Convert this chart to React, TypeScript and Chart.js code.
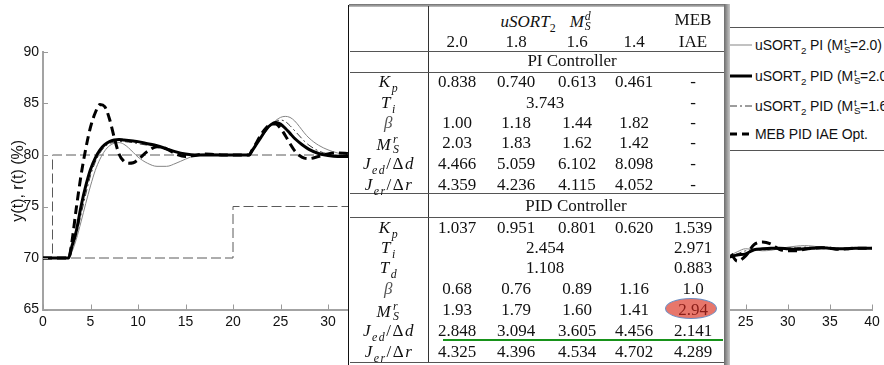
import React, { useEffect, useRef } from 'react';
import { Chart, registerables } from 'chart.js';
Chart.register(...registerables);

// ---------- data: left plot (set-point / disturbance response) ----------
const tLeft = [0, 1, 2, 2.7, 3, 3.5, 4, 4.5, 5, 5.5, 6, 6.5, 7, 7.5, 8, 8.5, 9, 9.5, 10, 11, 12, 13, 14, 15, 16, 17, 18, 19, 20, 21, 21.7, 22, 22.5, 23, 23.5, 24, 24.5, 25, 25.5, 26, 26.5, 27, 27.5, 28, 29, 30, 31, 32, 34, 36, 38, 40];
const piLeft = [70, 70, 70, 70, 70.5, 71.8, 73.5, 75.3, 77.0, 78.5, 79.6, 80.4, 80.9, 81.15, 81.2, 81.05, 80.7, 80.25, 79.8, 79.2, 78.9, 78.9, 79.2, 79.6, 79.95, 80.1, 80.1, 80.05, 80, 80, 80, 80.3, 81.0, 81.7, 82.3, 82.9, 83.35, 83.65, 83.75, 83.65, 83.3, 82.75, 82.15, 81.65, 80.95, 80.5, 80.2, 80.0, 79.9, 79.95, 80, 80];
const pid20Left = [70, 70, 70, 70, 71.0, 72.6, 75.0, 77.0, 78.6, 79.7, 80.5, 81.0, 81.3, 81.45, 81.5, 81.45, 81.4, 81.35, 81.3, 81.1, 80.9, 80.6, 80.3, 80.1, 80.0, 80, 80, 80, 80, 80, 80, 80.4, 81.1, 81.8, 82.5, 82.95, 83.15, 83.0, 82.6, 82.1, 81.6, 81.2, 80.85, 80.55, 80.15, 79.95, 79.85, 79.85, 79.9, 80, 80, 80];
const pid16Left = [70, 70, 70, 70, 70.7, 72.2, 74.2, 76.2, 78.0, 79.3, 80.2, 80.8, 81.1, 81.25, 81.3, 81.3, 81.25, 81.2, 81.1, 80.95, 80.8, 80.55, 80.3, 80.1, 80.0, 80, 80, 80, 80, 80, 80, 80.3, 81.0, 81.7, 82.35, 82.9, 83.25, 83.4, 83.25, 82.85, 82.35, 81.85, 81.35, 80.95, 80.4, 80.1, 79.95, 79.9, 79.95, 80, 80, 80];
const mebLeft = [70, 70, 70, 70, 71.3, 74.8, 78.0, 80.6, 82.7, 84.1, 84.9, 84.7, 83.5, 81.7, 80.1, 79.4, 79.2, 79.25, 79.55, 80.35, 80.8, 80.6, 80.1, 79.85, 79.95, 80.1, 80.05, 80, 80, 80, 80, 80.45, 81.25, 82.05, 82.65, 83.0, 83.0, 82.6, 81.9, 81.1, 80.4, 79.95, 79.7, 79.65, 79.85, 80.1, 80.2, 80.15, 80.0, 80, 80, 80];
const refT = [0, 1, 1, 40];
const refY = [70, 70, 80, 80];
const distT = [0, 20, 20, 40];
const distY = [70, 70, 75, 75];

// ---------- data: right plot ----------
const tRight = [22, 23, 24, 25, 26, 27, 28, 29, 30, 31, 32, 33, 34, 35, 36, 37, 38, 39, 40];
const piRight = [70.0, 70.2, 70.6, 70.9, 70.8, 70.7, 70.75, 70.9, 71.05, 71.15, 71.2, 71.15, 71.05, 70.95, 70.9, 70.9, 70.95, 70.95, 70.95];
const pid20Right = [70.0, 70.1, 70.3, 70.4, 70.8, 70.9, 70.95, 70.95, 70.9, 70.85, 70.9, 70.95, 71.0, 70.95, 70.9, 70.9, 70.95, 70.95, 70.95];
const pid16Right = [70.0, 70.1, 70.4, 70.7, 70.8, 70.8, 70.85, 70.9, 70.95, 71.0, 71.05, 71.05, 71.0, 70.95, 70.9, 70.9, 70.95, 70.95, 70.95];
const mebRight = [70.0, 70.6, 69.7, 70.2, 71.3, 71.55, 71.35, 70.85, 70.7, 70.7, 70.85, 70.95, 71.0, 70.95, 70.85, 70.9, 70.95, 70.95, 70.95];

// ---------- axis ----------
const xMin = 0, xMax = 40, xStep = 5;
const yMin = 65, yMax = 90, yStep = 5;
const yTitle = 'y(t), r(t) (%)';

// ---------- legend ----------
const legendCtrl = ['PI', 'PID', 'PID'];
const legendMs = ['2.0', '2.0', '1.6'];
const legendMeb = 'MEB PID IAE Opt.';

// ---------- table ----------
const colHeaders = ['2.0', '1.8', '1.6', '1.4'];
const piKp = ['0.838', '0.740', '0.613', '0.461', '-'];
const piTi = ['3.743', '-'];
const piBeta = ['1.00', '1.18', '1.44', '1.82', '-'];
const piMs = ['2.03', '1.83', '1.62', '1.42', '-'];
const piJed = ['4.466', '5.059', '6.102', '8.098', '-'];
const piJer = ['4.359', '4.236', '4.115', '4.052', '-'];
const pidKp = ['1.037', '0.951', '0.801', '0.620', '1.539'];
const pidTi = ['2.454', '2.971'];
const pidTd = ['1.108', '0.883'];
const pidBeta = ['0.68', '0.76', '0.89', '1.16', '1.0'];
const pidMs = ['1.93', '1.79', '1.60', '1.41', '2.94'];
const pidJed = ['2.848', '3.094', '3.605', '4.456', '2.141'];
const pidJer = ['4.325', '4.396', '4.534', '4.702', '4.289'];

const SANS = '"Liberation Sans", Arial, Helvetica, sans-serif';
const SERIF = '"Liberation Serif", "Times New Roman", Times, serif';

const pts = (xs: number[], ys: number[]) => xs.map((x, i) => ({ x, y: ys[i] }));

function innerTicks(showY: boolean) {
  return {
    id: 'innerTicks',
    afterDraw(chart: any) {
      const { ctx, chartArea, scales } = chart;
      ctx.save();
      ctx.strokeStyle = '#9a9a9a';
      ctx.lineWidth = 1;
      const xs = scales.x;
      xs.ticks.forEach((t: any) => {
        const p = Math.round(xs.getPixelForValue(t.value)) + 0.5;
        ctx.beginPath();
        ctx.moveTo(p, chartArea.bottom);
        ctx.lineTo(p, chartArea.bottom - 5);
        ctx.stroke();
      });
      if (showY) {
        const ys = scales.y;
        ys.ticks.forEach((t: any) => {
          const p = Math.round(ys.getPixelForValue(t.value)) + 0.5;
          ctx.beginPath();
          ctx.moveTo(chartArea.left, p);
          ctx.lineTo(chartArea.left + 5, p);
          ctx.stroke();
        });
      }
      ctx.restore();
    },
  };
}

function curveSets(t: number[], pi: number[], p20: number[], p16: number[], meb: number[]) {
  const base = { pointRadius: 0, fill: false, cubicInterpolationMode: 'monotone' as const };
  return [
    { ...base, data: pts(t, meb), borderColor: '#000', borderWidth: 3, borderDash: [9, 5] },
    { ...base, data: pts(t, p20), borderColor: '#000', borderWidth: 3 },
    { ...base, data: pts(t, p16), borderColor: '#3a3a3a', borderWidth: 1, borderDash: [7, 3, 2, 3] },
    { ...base, data: pts(t, pi), borderColor: '#858585', borderWidth: 1 },
  ];
}

function makeConfig(datasets: any[], padLeft: number, padRight: number, showY: boolean): any {
  const tickFont = { family: SANS, size: 14 };
  return {
    type: 'line',
    data: { datasets },
    options: {
      responsive: false,
      animation: false,
      devicePixelRatio: 1,
      events: [],
      layout: { padding: { left: padLeft, right: padRight, top: 52, bottom: 0 } },
      plugins: { legend: { display: false }, tooltip: { enabled: false } },
      scales: {
        x: {
          type: 'linear', min: xMin, max: xMax,
          ticks: { stepSize: xStep, font: tickFont, color: '#111', padding: 4, maxRotation: 0 },
          grid: { display: false, drawTicks: false },
          border: { display: true, color: '#a3a3a3', width: 2 },
          afterFit: (a: any) => { a.height = 365 - 309.5; },
        },
        y: {
          type: 'linear', min: yMin, max: yMax, display: showY,
          ticks: { stepSize: yStep, font: tickFont, color: '#111', padding: 4 },
          grid: { display: false, drawTicks: false },
          border: { display: true, color: '#a3a3a3', width: 2 },
          title: { display: true, text: yTitle, font: { family: SANS, size: 16 }, color: '#111', padding: { top: 9, bottom: 0 } },
          afterFit: (a: any) => { a.width = 43; },
        },
      },
    },
    plugins: [innerTicks(showY)],
  };
}

// ---------- small typographic helpers ----------
function Sub({ fs, children, italic = false, drop = 0.28 }: any) {
  return <span style={{ fontSize: fs * 0.7, position: 'relative', top: fs * drop, fontStyle: italic ? 'italic' : 'normal', lineHeight: 0 }}>{children}</span>;
}
function SupSub({ fs, sup, sub, italic = true, w }: any) {
  const s = fs * 0.7;
  return (
    <span style={{ display: 'inline-block', position: 'relative', width: w ?? s * 0.72 + 1, height: fs, verticalAlign: 'baseline' }}>
      <span style={{ position: 'absolute', left: 1, bottom: fs * 0.26, fontSize: s, lineHeight: 1, fontStyle: italic ? 'italic' : 'normal' }}>{sup}</span>
      <span style={{ position: 'absolute', left: 1, top: fs * 0.66, fontSize: s, lineHeight: 1, fontStyle: italic ? 'italic' : 'normal' }}>{sub}</span>
    </span>
  );
}

const FS = 17;
const COLX = [457, 516, 577, 634, 693];
const SPANX = 545;
const LABELX = 389;

function Cell({ x, y, children, color, math }: any) {
  return (
    <div style={{
      position: 'absolute', left: x - 70, top: y - 10, width: 140, height: 20, lineHeight: '20px',
      textAlign: 'center', whiteSpace: 'nowrap', fontFamily: SERIF, fontSize: FS, color: color || '#111',
      letterSpacing: math ? 1.5 : 0,
    }}>{children}</div>
  );
}

function Row({ y, label, values }: any) {
  return (
    <>
      <Cell x={LABELX} y={y} math>{label}</Cell>
      {values.length === 2 ? (
        <>
          <Cell x={SPANX} y={y}>{values[0]}</Cell>
          <Cell x={COLX[4]} y={y}>{values[1]}</Cell>
        </>
      ) : values.map((v: string, i: number) => (i === 4 && v === '2.94') ? null : <Cell key={i} x={COLX[i]} y={y}>{v}</Cell>)}
    </>
  );
}

const lblKp = <><i>K</i><Sub fs={FS} italic>p</Sub></>;
const lblTi = <><i>T</i><Sub fs={FS} italic>i</Sub></>;
const lblTd = <><i>T</i><Sub fs={FS} italic>d</Sub></>;
const lblBeta = <i style={{ color: '#555' }}>β</i>;
const lblMs = <><i>M</i><SupSub fs={FS} sup="r" sub="S" /></>;
const lblJed = <><i>J</i><Sub fs={FS} italic>ed</Sub>/Δ<i>d</i></>;
const lblJer = <><i>J</i><Sub fs={FS} italic>er</Sub>/Δ<i>r</i></>;

function HLine({ y }: any) {
  return <div style={{ position: 'absolute', left: 350, top: y, width: 374, height: 1, background: '#555' }} />;
}

function TablePanel() {
  const piY = [82, 103, 123, 143, 164, 185];
  const pidY = [228, 248, 268, 289, 310, 331, 352];
  return (
    <>
      <div style={{ position: 'absolute', left: 348, top: 4, width: 382, height: 361, background: '#fff' }} />
      <div style={{ position: 'absolute', left: 349, top: 4, width: 378, height: 3, background: 'linear-gradient(#6c6c6c, #c4c4c4)' }} />
      <div style={{ position: 'absolute', left: 724, top: 4, width: 6, height: 361, background: 'linear-gradient(to right, #6c6c6c, #c8c8c8)' }} />
      <div style={{ position: 'absolute', left: 348, top: 5, width: 1, height: 360, background: '#111' }} />
      <div style={{ position: 'absolute', left: 428, top: 6, width: 1, height: 357, background: '#333' }} />
      <HLine y={51} />
      <HLine y={72} />
      <HLine y={193} />
      <HLine y={217} />
      <HLine y={362} />

      <Cell x={547} y={20}>
        <i>uSORT</i><Sub fs={FS}>2</Sub><span style={{ display: 'inline-block', width: 14 }} /><i>M</i><SupSub fs={FS} sup="d" sub="S" />
      </Cell>
      <Cell x={COLX[4]} y={20}>MEB</Cell>
      {colHeaders.map((h, i) => <Cell key={i} x={COLX[i]} y={42}>{h}</Cell>)}
      <Cell x={COLX[4]} y={42}>IAE</Cell>

      <Cell x={572} y={61}>PI Controller</Cell>
      <Row y={piY[0]} label={lblKp} values={piKp} />
      <Row y={piY[1]} label={lblTi} values={piTi} />
      <Row y={piY[2]} label={lblBeta} values={piBeta} />
      <Row y={piY[3]} label={lblMs} values={piMs} />
      <Row y={piY[4]} label={lblJed} values={piJed} />
      <Row y={piY[5]} label={lblJer} values={piJer} />

      <Cell x={576} y={206}>PID Controller</Cell>
      <Row y={pidY[0]} label={lblKp} values={pidKp} />
      <Row y={pidY[1]} label={lblTi} values={pidTi} />
      <Row y={pidY[2]} label={lblTd} values={pidTd} />
      <Row y={pidY[3]} label={lblBeta} values={pidBeta} />
      <Row y={pidY[4]} label={lblMs} values={pidMs} />
      <Row y={pidY[5]} label={lblJed} values={pidJed} />
      <Row y={pidY[6]} label={lblJer} values={pidJer} />

      <div style={{ position: 'absolute', left: 665, top: 298, width: 52, height: 21, borderRadius: '50%', background: '#e7766b', border: '1px solid #6d8fc4', boxSizing: 'border-box' }} />
      <Cell x={COLX[4]} y={pidY[4]} color="#8a1d18">{pidMs[4]}</Cell>
      <div style={{ position: 'absolute', left: 443, top: 339, width: 280, height: 2, background: '#17921a' }} />
    </>
  );
}

function Legend() {
  const ys = [45, 76, 106, 134];
  const fs = 14;
  const styles = [
    { stroke: '#858585', width: 1, dash: undefined },
    { stroke: '#000', width: 3, dash: undefined },
    { stroke: '#3a3a3a', width: 1, dash: '7 3 2 3' },
    { stroke: '#000', width: 3, dash: '7 5' },
  ];
  const textStyle: any = { position: 'absolute', left: 755, height: 18, lineHeight: '18px', fontFamily: SANS, fontSize: fs, color: '#111', whiteSpace: 'nowrap', letterSpacing: -0.1 };
  return (
    <>
      <div style={{ position: 'absolute', left: 690, top: 27, width: 260, height: 122, border: '1px solid #555', background: '#fff' }} />
      <svg style={{ position: 'absolute', left: 700, top: 0 }} width={60} height={160}>
        {ys.map((y, i) => (
          <line key={i} x1={30} x2={52} y1={y} y2={y} stroke={styles[i].stroke} strokeWidth={styles[i].width} strokeDasharray={styles[i].dash} />
        ))}
      </svg>
      {legendCtrl.map((c, i) => (
        <div key={i} style={{ ...textStyle, top: ys[i] - 9 }}>
          uSORT<Sub fs={fs} drop={0.32}>2</Sub> {c} (M<SupSub fs={fs} sup="t" sub="S" italic={false} w={7} />={legendMs[i]})
        </div>
      ))}
      <div style={{ ...textStyle, top: ys[3] - 9 }}>{legendMeb}</div>
    </>
  );
}

export default function App() {
  const leftRef = useRef<HTMLCanvasElement>(null);
  const rightRef = useRef<HTMLCanvasElement>(null);
  useEffect(() => {
    const leftSets = [
      ...curveSets(tLeft, piLeft, pid20Left, pid16Left, mebLeft),
      { data: pts(refT, refY), borderColor: '#5a5a5a', borderWidth: 1, borderDash: [10, 4], pointRadius: 0, fill: false, tension: 0 },
      { data: pts(distT, distY), borderColor: '#5a5a5a', borderWidth: 1, borderDash: [10, 4], pointRadius: 0, fill: false, tension: 0 },
    ];
    const rightSets = curveSets(tRight, piRight, pid20Right, pid16Right, mebRight);
    const c1 = new Chart(leftRef.current as HTMLCanvasElement, makeConfig(leftSets, 0, 884 - 423, true));
    const c2 = new Chart(rightRef.current as HTMLCanvasElement, makeConfig(rightSets, 492, 12, false));
    return () => { c1.destroy(); c2.destroy(); };
  }, []);
  return (
    <div style={{ position: 'absolute', left: 0, top: 0, width: 884, height: 365, overflow: 'hidden', background: '#fff' }}>
      <canvas ref={leftRef} width={884} height={365} style={{ position: 'absolute', left: 0, top: 0 }} />
      <canvas ref={rightRef} width={884} height={365} style={{ position: 'absolute', left: 0, top: 0 }} />
      <Legend />
      <TablePanel />
    </div>
  );
}
